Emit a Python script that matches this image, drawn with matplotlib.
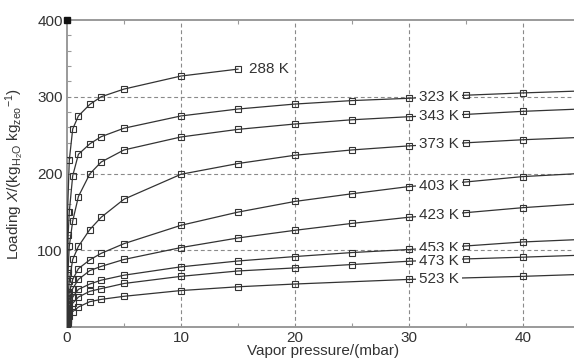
import matplotlib
matplotlib.use("Agg")
import matplotlib.pyplot as plt
from matplotlib.ticker import MultipleLocator, FixedLocator
import numpy as np

plt.rcParams['font.family'] = ['Liberation Sans', 'DejaVu Sans']
plt.rcParams['mathtext.fontset'] = 'custom'
plt.rcParams['mathtext.rm'] = 'Liberation Sans'
plt.rcParams['mathtext.it'] = 'Liberation Sans:italic'

# ---- data ----
x_288 = [0.005, 0.05, 0.2, 0.5, 1, 2, 3, 5, 10, 15]
y_288 = [20, 150, 217, 258, 275, 290, 300, 310, 327, 336]

x_full = [0.02, 0.05, 0.1, 0.2, 0.5, 1, 2, 3, 5, 10, 15, 20, 25, 30, 35, 40, 45]
y_323 = [30, 70, 120, 150, 197, 225, 238.6, 248, 259, 275, 284, 290.5, 295, 298, 302, 305, 307.5]
y_343 = [20, 45, 75, 105, 138, 170, 199.5, 215, 230.7, 247.6, 257.5, 264.5, 270, 274, 277, 281, 284]
y_373 = [12, 25, 42, 60, 88, 105, 127, 143, 166.5, 199, 213, 223.8, 230.7, 236, 240, 244, 247]
y_403 = [8, 18, 30, 45, 62, 76, 87.5, 96, 108.6, 132.5, 149.7, 163.6, 173.6, 183, 189, 196, 200]
y_423 = [6, 14, 24, 36, 50, 62, 73.5, 79, 88, 103.5, 116, 126, 135, 143, 149, 155.5, 160.5]
y_453 = [4, 10, 18, 27, 39, 49, 56, 61, 67.5, 78.4, 86, 91.8, 97, 101, 105.6, 110.8, 114]
y_473 = [3, 8, 14, 21, 31, 39, 46.5, 50, 56.7, 66, 73, 77, 81.4, 85.7, 88.7, 91, 93.5]
x_523 = [0.02, 0.05, 0.1, 0.2, 0.5, 1, 2, 3, 5, 10, 15, 20, 30, 40, 45]
y_523 = [2, 5, 9, 14, 20, 26, 33, 36, 40, 47.5, 52.4, 56, 62, 66, 68.5]

labels = ["288 K", "323 K", "343 K", "373 K", "403 K", "423 K", "453 K", "473 K", "523 K"]
label_x = [15.96, 30.9, 30.9, 30.9, 30.9, 30.9, 30.9, 30.9, 30.9]
label_y = [336, 300, 275, 238, 184, 146, 103.5, 86, 62]

series = [(x_288, y_288), (x_full, y_323), (x_full, y_343), (x_full, y_373),
          (x_full, y_403), (x_full, y_423), (x_full, y_453), (x_full, y_473),
          (x_523, y_523)]

# ---- figure ----
fig = plt.figure(figsize=(5.74, 3.58), dpi=100)
ax = fig.add_axes([67/574, 31/358, 513/574, 307/358])

line_col = '#333333'
grid_col = '#8a8a8a'
spine_col = '#9a9a9a'
text_col = '#333333'

for xs, ys in series:
    ax.plot(xs, ys, '-', color=line_col, lw=0.9, marker='s', ms=4.6,
            mfc='none', mec=line_col, mew=0.8, zorder=3)

for lab, lx, ly in zip(labels, label_x, label_y):
    ax.text(lx, ly, lab, ha='left', va='center', fontsize=11, color=text_col,
            zorder=5,
            bbox=dict(boxstyle='square,pad=0.2', fc='white', ec='none'))

# corner marker
ax.plot([0], [400], marker='s', ms=4, color='#111111', clip_on=False, zorder=6)

ax.set_xlim(0, 45)
ax.set_ylim(0, 400)

ax.xaxis.set_major_locator(FixedLocator([0, 10, 20, 30, 40]))
ax.xaxis.set_minor_locator(FixedLocator([5, 15, 25, 35]))
ax.yaxis.set_major_locator(FixedLocator([100, 200, 300, 400]))
ax.yaxis.set_minor_locator(MultipleLocator(20))

for xv in [10, 20, 30, 40]:
    ax.axvline(xv, color=grid_col, lw=0.8, ls=(0, (3.5, 2.5)), zorder=1)
for yv in [100, 200, 300]:
    ax.axhline(yv, color=grid_col, lw=0.8, ls=(0, (3.5, 2.5)), zorder=1)

ax.tick_params(which='major', length=0, labelsize=11, labelcolor=text_col, pad=3)
ax.tick_params(which='minor', direction='in', length=3, color=spine_col,
               top=True, width=0.8)

for s in ['left', 'top', 'bottom']:
    ax.spines[s].set_color(spine_col)
    ax.spines[s].set_linewidth(1.4)
ax.spines['right'].set_visible(False)

ax.set_xlabel('Vapor pressure/(mbar)', fontsize=11, color=text_col, labelpad=-1)
ax.set_ylabel(r'Loading $\it{X}$/(kg$_{\mathrm{H_2O}}$ kg$_{\mathrm{zeo}}$$^{-1}$)',
              fontsize=11, color=text_col, labelpad=8)

fig.savefig('out.png', dpi=100)
